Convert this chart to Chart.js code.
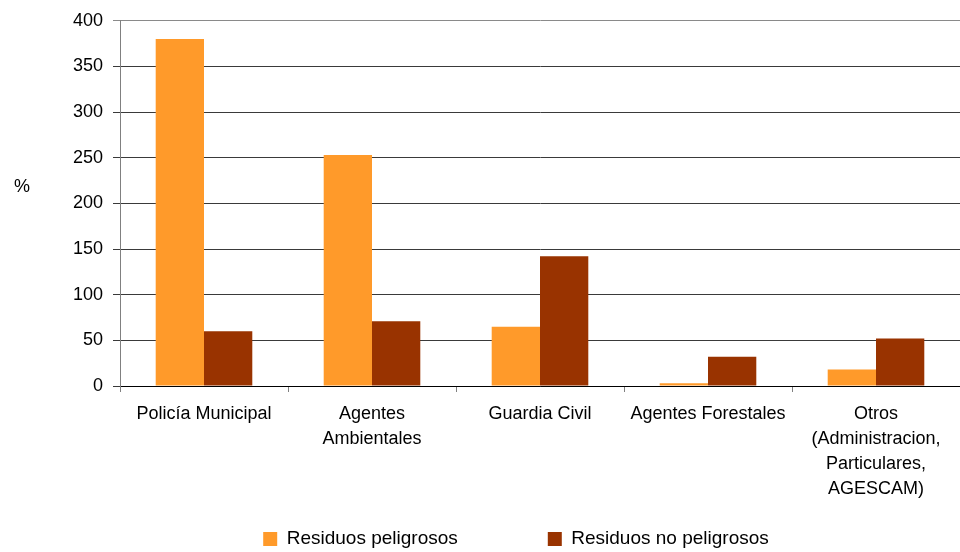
<!DOCTYPE html>
<html lang="es">
<head>
<meta charset="utf-8">
<title>Residuos por organismo denunciante</title>
<script src="https://cdn.jsdelivr.net/npm/chart.js@4/dist/chart.umd.min.js"></script>
<style>
  html, body { margin: 0; padding: 0; background: #ffffff; }
  #wrap { position: relative; width: 960px; height: 552px; }
</style>
</head>
<body>
<div id="wrap"><canvas id="chart" width="960" height="552"></canvas></div>
<script>
// Organismos (etiquetas en varias líneas)
const categories = [
  ['Policía Municipal'],
  ['Agentes', 'Ambientales'],
  ['Guardia Civil'],
  ['Agentes Forestales'],
  ['Otros', '(Administracion,', 'Particulares,', 'AGESCAM)']
];
const seriesNames = ['Residuos peligrosos', 'Residuos no peligrosos'];
const peligrosos = [380, 253, 65, 3, 18];
const noPeligrosos = [60, 71, 142, 32, 52];
const yTicks = [0, 50, 100, 150, 200, 250, 300, 350, 400];
const yAxisTitle = '%';

const FONT = 'Arial, "Liberation Sans", Helvetica, sans-serif';

// Etiqueta "%" a la izquierda del eje vertical
const axisTitlePlugin = {
  id: 'axisTitle',
  afterDraw(chart) {
    const ctx = chart.ctx;
    const y = chart.scales.y;
    ctx.save();
    ctx.font = '18px ' + FONT;
    ctx.fillStyle = '#000000';
    ctx.textAlign = 'center';
    ctx.textBaseline = 'middle';
    ctx.fillText(yAxisTitle, 22, y.top + (y.bottom - y.top) * 0.455);
    ctx.restore();
  }
};

new Chart(document.getElementById('chart'), {
  type: 'bar',
  data: {
    labels: categories,
    datasets: [
      { label: seriesNames[0], data: peligrosos, backgroundColor: '#FF9A2A', borderWidth: 0 },
      { label: seriesNames[1], data: noPeligrosos, backgroundColor: '#993300', borderWidth: 0 }
    ]
  },
  options: {
    responsive: false,
    animation: false,
    devicePixelRatio: 1,
    layout: { padding: { left: 72, right: 0, top: 20, bottom: -6.5 } },
    datasets: { bar: { categoryPercentage: 0.575, barPercentage: 1.0 } },
    scales: {
      x: {
        offset: true,
        border: { display: true, color: '#000000', width: 1 },
        grid: {
          offset: true,
          drawOnChartArea: false,
          drawTicks: true,
          tickLength: 6,
          color: '#808080'
        },
        ticks: {
          color: '#000000',
          font: { family: FONT, size: 18, lineHeight: 1.39 },
          // labels hang below the axis line, outside the scale box
          mirror: true,
          padding: -40.5,
          maxRotation: 0,
          autoSkip: false
        },
        afterFit(scale) { scale.height = 53.5; }
      },
      y: {
        min: 0,
        max: 400,
        afterBuildTicks(scale) { scale.ticks = yTicks.map(v => ({ value: v })); },
        border: { display: true, color: '#808080', width: 1 },
        grid: {
          color: ctx => (ctx.tick && ctx.tick.value === 400 ? '#8a8a8a' : '#3a3a3a'),
          lineWidth: 1,
          drawTicks: true,
          tickLength: 7
        },
        ticks: {
          color: '#000000',
          font: { family: FONT, size: 18 },
          padding: 10
        },
        afterFit(scale) { scale.width = 48; }
      }
    },
    plugins: {
      legend: {
        position: 'bottom',
        align: 'center',
        labels: {
          color: '#000000',
          font: { family: FONT, size: 19 },
          boxWidth: 14,
          boxHeight: 14,
          padding: 90
        }
      },
      tooltip: { enabled: false },
      title: { display: false }
    }
  },
  plugins: [axisTitlePlugin]
});
</script>
</body>
</html>
